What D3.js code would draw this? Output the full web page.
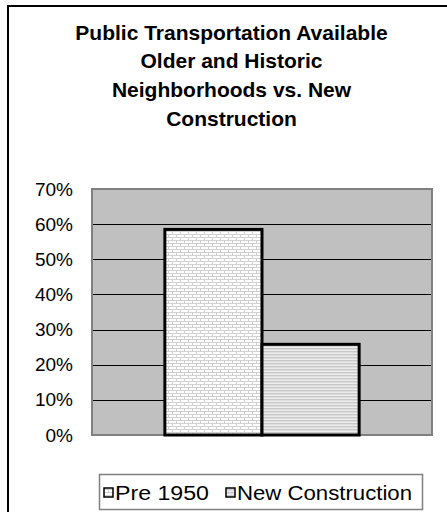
<!DOCTYPE html>
<html>
<head>
<meta charset="utf-8">
<script src="https://cdn.jsdelivr.net/npm/d3@7"></script>
<style>
html,body{margin:0;padding:0;background:#fff;}
svg{display:block;}
</style>
</head>
<body>
<script>
const titleLines = ["Public Transportation Available", "Older and Historic", "Neighborhoods vs. New", "Construction"];
const categories = ["All"];
const seriesNames = ["Pre 1950", "New Construction"];
const seriesValues = [0.585, 0.258];
const yTicks = [0, 0.1, 0.2, 0.3, 0.4, 0.5, 0.6, 0.7];

const W = 447, H = 512;
const FONT = "Arial, 'Liberation Sans', sans-serif";
const svg = d3.select("body").append("svg").attr("width", W).attr("height", H);
const defs = svg.append("defs");

// brick pattern
const brick = defs.append("pattern").attr("id", "brick").attr("patternUnits", "userSpaceOnUse")
  .attr("width", 8).attr("height", 6);
brick.append("rect").attr("width", 8).attr("height", 6).attr("fill", "#ffffff");
brick.append("rect").attr("x", 0).attr("y", 0).attr("width", 8).attr("height", 1).attr("fill", "#d0d0d0");
brick.append("rect").attr("x", 0).attr("y", 3).attr("width", 8).attr("height", 1).attr("fill", "#d0d0d0");
brick.append("rect").attr("x", 0).attr("y", 1).attr("width", 1).attr("height", 2).attr("fill", "#d0d0d0");
brick.append("rect").attr("x", 4).attr("y", 4).attr("width", 1).attr("height", 2).attr("fill", "#d0d0d0");

// stripes pattern
const stripe = defs.append("pattern").attr("id", "stripe").attr("patternUnits", "userSpaceOnUse")
  .attr("width", 4).attr("height", 3);
stripe.append("rect").attr("width", 4).attr("height", 3).attr("fill", "#ececec");
stripe.append("rect").attr("y", 0).attr("width", 4).attr("height", 1).attr("fill", "#c8c8c8");
stripe.append("rect").attr("y", 1).attr("width", 4).attr("height", 1).attr("fill", "#dcdcdc");

const fills = ["url(#brick)", "url(#stripe)"];

// chart area border
svg.append("rect").attr("x", 8).attr("y", 6).attr("width", W + 10).attr("height", H + 10)
  .attr("fill", "#fff").attr("stroke", "#000").attr("stroke-width", 2);

// title
const title = svg.append("text").attr("text-anchor", "middle")
  .attr("font-family", FONT).attr("font-weight", "bold")
  .attr("font-size", 21).attr("fill", "#000");
titleLines.forEach((t, i) => {
  title.append("tspan").attr("x", 231.5).attr("y", 39.5 + i * 28.8).text(t);
});

// plot
const plot = {left: 92, top: 189, right: 432, bottom: 435};
const x0 = d3.scaleBand().domain(categories).range([plot.left, plot.right]).paddingInner(0).paddingOuter(0);
const x1 = d3.scaleBand().domain(seriesNames).range([0, x0.bandwidth()]).paddingInner(0).paddingOuter(0.75);
const y = d3.scaleLinear().domain([0, 0.7]).range([plot.bottom, plot.top]);

svg.append("rect").attr("x", plot.left).attr("y", plot.top)
  .attr("width", plot.right - plot.left).attr("height", plot.bottom - plot.top)
  .attr("fill", "#c0c0c0").attr("stroke", "#808080").attr("stroke-width", 2);

// gridlines
svg.append("g").selectAll("line").data(yTicks.filter(d => d > 0 && d < 0.7)).join("line")
  .attr("x1", plot.left + 1).attr("x2", plot.right - 1)
  .attr("y1", d => Math.round(y(d)) + 0.5).attr("y2", d => Math.round(y(d)) + 0.5)
  .attr("stroke", "#000").attr("stroke-width", 1);

// y axis
const yAxis = d3.axisLeft(y).tickValues(yTicks).tickFormat(d3.format(".0%")).tickSize(0).tickPadding(19);
const yg = svg.append("g").attr("transform", `translate(${plot.left},0)`).call(yAxis);
yg.select(".domain").remove();
yg.selectAll("text").attr("font-family", FONT).attr("font-size", 19).attr("fill", "#000");

// bars
svg.append("g").selectAll("rect").data(seriesValues).join("rect")
  .attr("x", (d, i) => x0(categories[0]) + x1(seriesNames[i]))
  .attr("y", d => y(d))
  .attr("width", x1.bandwidth())
  .attr("height", d => y(0) - y(d))
  .attr("fill", (d, i) => fills[i])
  .attr("stroke", "#000").attr("stroke-width", 3);

// legend
const lg = svg.append("g");
lg.append("rect").attr("x", 99.5).attr("y", 474.5).attr("width", 323).attr("height", 35)
  .attr("fill", "#fff").attr("stroke", "#808080").attr("stroke-width", 1.5);
const legX = [104, 226];
const legLen = [94, 175];
seriesNames.forEach((n, i) => {
  lg.append("rect").attr("x", legX[i]).attr("y", 488).attr("width", 9).attr("height", 9)
    .attr("fill", fills[i]).attr("stroke", "#000").attr("stroke-width", 1.5);
  lg.append("text").attr("x", legX[i] + 11).attr("y", 500)
    .attr("font-family", FONT).attr("font-size", 20.5).attr("fill", "#000")
    .attr("textLength", legLen[i]).attr("lengthAdjust", "spacingAndGlyphs")
    .text(n);
});
</script>
</body>
</html>
